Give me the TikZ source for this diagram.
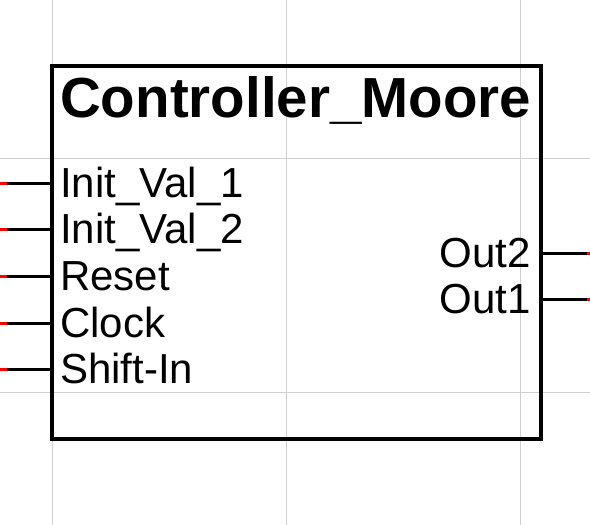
\documentclass[tikz,border=0pt]{standalone}
\usepackage{fontspec}
\setmainfont{Liberation Sans}
\begin{document}
\begin{tikzpicture}[x=1pt,y=-1pt,
  gridline/.style={draw=black!18,line width=1pt},
  blockbox/.style={draw=black,line width=4pt,minimum width=489pt,minimum height=373pt,inner sep=0pt},
  pinline/.style={draw=black,line width=3pt},
  pintip/.style={draw=red,line width=3pt},
  pinlabel/.style={inner sep=0pt,font=\fontsize{42}{50}\selectfont},
  titlelabel/.style={inner sep=0pt,font=\fontsize{56.5}{66}\selectfont\bfseries}]
\useasboundingbox (0,0) rectangle (590,525);
% grid
\foreach \gx in {52,286,520} \draw[gridline] (\gx,0) -- (\gx,525);
\foreach \gy in {158,392} \draw[gridline] (0,\gy) -- (590,\gy);
% block
\node[blockbox] (box) at (296.5,252.5) {};
\node[titlelabel,anchor=base west] (title) at (60,117) {Controller\_Moore};
% left pins
\foreach \n/\py/\txt in {a/183/Init\_Val\_1, b/229/Init\_Val\_2, c/276/Reset, d/323/Clock, e/369/Shift-In}{
  \coordinate (in\n) at (0,\py);
  \coordinate (ink\n) at (52,\py);
  \draw[pinline] (in\n) -- (ink\n);
  \draw[pintip] (in\n) -- ++(7,0);
  \node[pinlabel,anchor=base west] (lbl\n) at (60,\py+14) {\txt};
}
% right pins
\foreach \n/\py/\txt in {a/253/Out2, b/299/Out1}{
  \coordinate (out\n) at (590,\py);
  \coordinate (outk\n) at (541,\py);
  \draw[pinline] (outk\n) -- (out\n);
  \draw[pintip] (out\n) -- ++(-3,0);
  \node[pinlabel,anchor=base east] (olbl\n) at (531,\py+14) {\txt};
}
\end{tikzpicture}
\end{document}
